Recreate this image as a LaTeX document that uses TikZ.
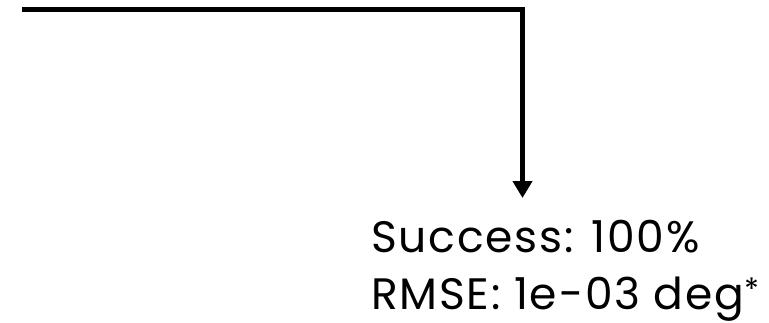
\documentclass[tikz,border=0pt]{standalone}
\usepackage{fontspec}
\setmainfont{Poppins}
\newfontfamily\resultfont[LetterSpace=4]{Poppins}
\usetikzlibrary{arrows.meta}
\begin{document}
\begin{tikzpicture}[x=1pt,y=1pt,
  flow/.style={line width=5pt,-{Triangle[length=17pt,width=19pt]}},
  result/.style={anchor=north west,align=left,inner sep=0pt,font=\resultfont\fontsize{44}{57}\selectfont}]
\useasboundingbox (0,0) rectangle (769,322);
\coordinate (src) at (22,312.5);
\coordinate (tip) at (522.5,124);
\node[result] (res) at (371,101.5) {Success: 100\%\\RMSE: 1e-03 deg\textsuperscript{*}};
\draw[flow] (src) -| (tip);
\end{tikzpicture}
\end{document}
